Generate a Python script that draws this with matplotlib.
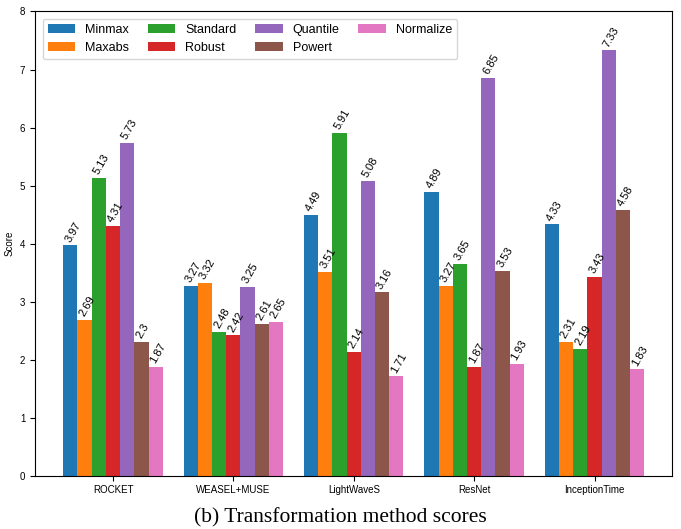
import numpy as np
import matplotlib.pyplot as plt

plt.rcParams['font.family'] = ['Liberation Sans', 'DejaVu Sans']

models = ["ROCKET", "WEASEL+MUSE", "LightWaveS", "ResNet", "InceptionTime"]
methods = ["Minmax", "Maxabs", "Standard", "Robust", "Quantile", "Powert", "Normalize"]

minmax = [3.97, 3.27, 4.49, 4.89, 4.33]
maxabs = [2.69, 3.32, 3.51, 3.27, 2.31]
standard = [5.13, 2.48, 5.91, 3.65, 2.19]
robust = [4.31, 2.42, 2.14, 1.87, 3.43]
quantile = [5.73, 3.25, 5.08, 6.85, 7.33]
powert = [2.3, 2.61, 3.16, 3.53, 4.58]
normalize = [1.87, 2.65, 1.71, 1.93, 1.83]

scores = [minmax, maxabs, standard, robust, quantile, powert, normalize]
colors = ["#1f77b4", "#ff7f0e", "#2ca02c", "#d62728", "#9467bd", "#8c564b", "#e377c2"]

fig = plt.figure(figsize=(6.81, 5.29), dpi=100)
ax = fig.add_axes([0.0514, 0.1008, 0.9358, 0.8775])

x = np.arange(len(models))
w = 0.118
for i, (vals, name) in enumerate(zip(scores, methods)):
    pos = x + (i - 3) * w
    ax.bar(pos, vals, w, color=colors[i], label=name)
    for p, v in zip(pos, vals):
        ax.text(p - w / 2, v + 0.03, str(v), rotation=60, fontsize=8,
                ha='left', va='bottom')

ax.set_xticks(x)
ax.set_xticklabels(models, fontsize=7)
ax.tick_params(axis='y', labelsize=7)
ax.set_ylabel("Score", fontsize=7)
ax.set_ylim(0, 8)
ax.set_xlim(-0.648, 4.646)
ax.legend(loc='upper left', ncol=4, fontsize=9, handlelength=2.2,
          columnspacing=1.5, borderaxespad=0.6)

fig.text(0.5, 0.012, "(b) Transformation method scores", ha='center',
         fontsize=15.5, family='Liberation Serif')

fig.savefig("out.png", dpi=100)
